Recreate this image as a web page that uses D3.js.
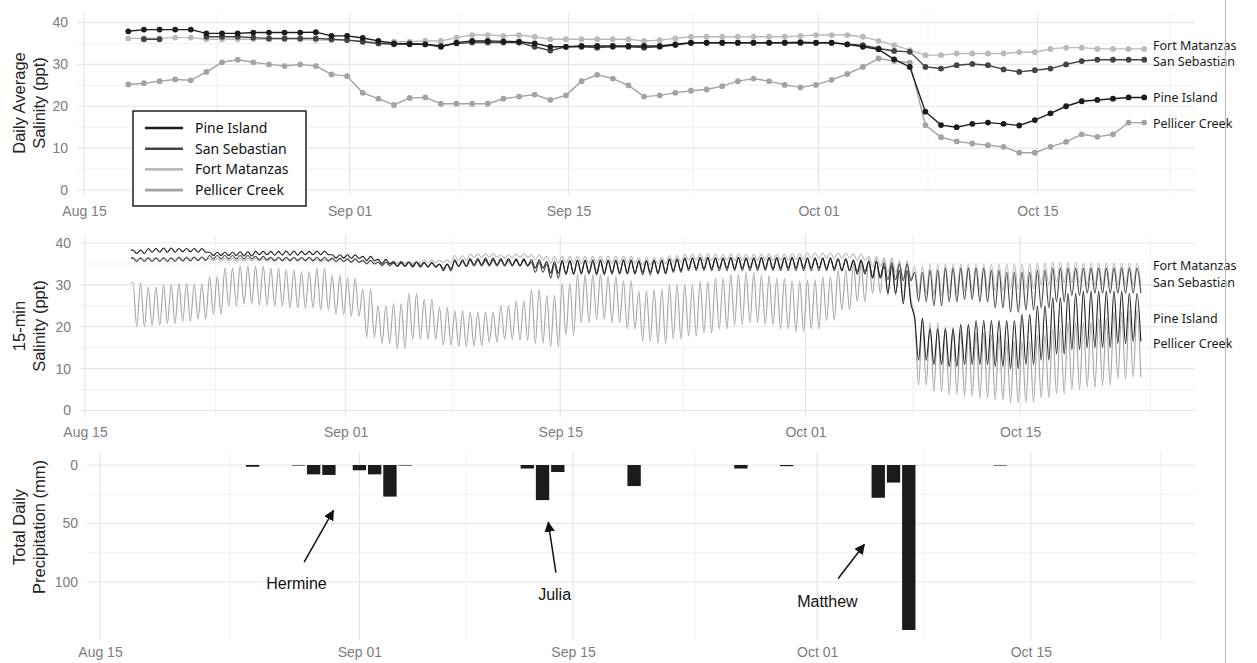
<!DOCTYPE html>
<html>
<head>
<meta charset="utf-8">
<script src="https://cdn.jsdelivr.net/npm/d3@7"></script>
<style>
  body { margin: 0; background: #fff; }
  svg { display: block; }
</style>
</head>
<body>
<div id="chart"></div>
<script>
// STATIONS
var stations = ['Pine Island', 'San Sebastian', 'Fort Matanzas', 'Pellicer Creek']
var firstDay = '2016-08-18'
// salinity level where each end label sits
var endLabelVals = [22.0, 30.6, 34.5, 15.9]

// DAILY AVERAGE SALINITY (ppt), one value per day from Aug 18
var pineDaily = [37.9, 38.3, 38.3, 38.3, 38.3, 37.4, 37.4, 37.4, 37.6, 37.6,
  37.6, 37.6, 37.7, 36.8, 36.8, 36.3, 35.6, 35.0, 34.8, 34.8,
  34.2, 35.2, 35.6, 35.6, 35.5, 35.4, 35.0, 34.2, 34.2, 34.4,
  34.4, 34.4, 34.4, 34.4, 34.4, 34.8, 35.2, 35.2, 35.2, 35.2,
  35.2, 35.2, 35.2, 35.3, 35.2, 35.2, 34.8, 34.2, 33.6, 31.2,
  29.4, 18.7, 15.5, 15.0, 15.8, 16.1, 15.8, 15.4, 16.7, 18.3,
  20.0, 21.2, 21.5, 21.8, 22.1, 22.1]
var sanSebDaily = [null, 36.0, 36.0, null, null, 36.6, 36.6, 36.6, 36.4, 36.2,
  36.2, 36.2, 36.2, 36.0, 35.8, 35.4, 35.0, 34.8, 35.0, 34.8,
  34.4, 35.0, 35.2, 35.2, 35.2, 35.2, 34.2, 33.3, 34.2, 34.2,
  34.0, 34.2, 34.2, 34.0, 34.2, 34.6, 35.1, 35.1, 35.1, 35.1,
  35.1, 35.1, 35.1, 35.1, 35.1, 35.1, 34.8, 34.6, 33.8, 33.2,
  33.0, 29.4, 29.0, 29.8, 30.1, 29.8, 28.8, 28.2, 28.6, 29.0,
  30.0, 30.8, 31.1, 31.1, 31.1, 31.1]
var matanzasDaily = [36.2, 36.2, 36.2, 36.4, 36.4, 36.0, 36.0, 36.0, 36.0, 36.0,
  36.0, 36.0, 35.8, 35.8, 35.8, 35.6, 35.2, 35.4, 35.4, 35.6,
  35.6, 36.4, 37.0, 37.0, 36.8, 37.0, 36.6, 36.0, 36.0, 36.0,
  36.0, 36.0, 36.0, 35.6, 35.8, 36.2, 36.6, 36.6, 36.6, 36.6,
  36.6, 36.6, 36.6, 36.8, 37.0, 37.0, 37.0, 36.6, 35.6, 34.6,
  33.4, 32.2, 32.2, 32.6, 32.6, 32.6, 32.6, 32.9, 32.9, 33.7,
  34.0, 34.0, 33.7, 33.7, 33.7, 33.7]
var pellicerDaily = [25.2, 25.5, 26.0, 26.4, 26.2, 28.2, 30.5, 31.1, 30.5, 30.0,
  29.6, 30.0, 29.6, 27.6, 27.2, 23.2, 21.8, 20.3, 22.0, 22.1,
  20.6, 20.6, 20.6, 20.6, 21.8, 22.3, 22.8, 21.5, 22.6, 26.0,
  27.5, 26.6, 25.0, 22.3, 22.6, 23.2, 23.7, 24.0, 24.8, 26.0,
  26.6, 26.0, 25.1, 24.5, 25.1, 26.3, 27.7, 29.4, 31.4, 30.8,
  30.4, 15.5, 12.6, 11.6, 11.1, 10.7, 10.3, 8.9, 8.9, 10.3,
  11.5, 13.3, 12.7, 13.3, 16.1, 16.1]

// 15-MIN SALINITY (ppt): high and low tide values read for each day from Aug 18
var pineHigh = [38.3, 38.7, 38.8, 38.7, 38.7, 37.8, 37.8, 37.9, 38.0, 38.0,
  38.1, 38.0, 38.1, 37.2, 37.2, 36.8, 36.1, 35.5, 35.4, 35.4,
  35.0, 36.0, 36.3, 36.4, 36.3, 36.2, 36.0, 35.6, 35.8, 35.9,
  36.0, 35.9, 36.0, 35.8, 35.9, 36.2, 36.4, 36.5, 36.4, 36.5,
  36.4, 36.5, 36.5, 36.6, 36.4, 36.4, 36.2, 35.8, 35.6, 34.5,
  33.5, 22.0, 19.5, 19.5, 20.5, 21.5, 21.5, 21.5, 23.0, 25.0,
  27.0, 28.0, 28.5, 28.5, 28.5, 28.0]
var pineLow = [37.5, 37.8, 37.8, 37.9, 37.8, 37.0, 37.0, 36.9, 37.2, 37.1,
  37.1, 37.2, 37.2, 36.4, 36.3, 35.8, 35.1, 34.5, 34.2, 34.2,
  33.4, 34.4, 34.8, 34.8, 34.7, 34.6, 34.0, 32.8, 32.6, 32.9,
  32.8, 32.9, 32.8, 33.0, 32.9, 33.4, 33.9, 33.9, 34.0, 33.9,
  34.0, 33.9, 34.0, 34.0, 34.0, 33.9, 33.4, 32.6, 31.6, 28.0,
  25.5, 12.0, 11.0, 10.5, 11.0, 11.0, 10.5, 10.0, 11.0, 12.0,
  13.5, 14.5, 15.0, 15.0, 16.0, 16.5]
var sanSebHigh = [36.4, 36.4, 36.4, 36.5, 36.6, 37.0, 37.0, 37.0, 36.8, 36.6,
  36.6, 36.6, 36.6, 36.4, 36.2, 35.8, 35.4, 35.2, 35.4, 35.2,
  34.9, 35.6, 35.9, 35.9, 35.9, 35.9, 35.4, 35.0, 35.8, 35.8,
  35.6, 35.8, 35.8, 35.6, 35.8, 36.0, 36.4, 36.5, 36.4, 36.5,
  36.4, 36.5, 36.4, 36.5, 36.4, 36.4, 36.2, 36.0, 35.6, 35.2,
  35.0, 33.0, 33.5, 34.0, 34.0, 34.0, 33.5, 33.0, 33.0, 33.5,
  34.0, 34.0, 34.0, 34.0, 34.0, 34.0]
var sanSebLow = [35.6, 35.6, 35.6, 35.7, 35.8, 36.2, 36.2, 36.2, 36.0, 35.8,
  35.8, 35.8, 35.8, 35.6, 35.4, 35.0, 34.6, 34.4, 34.6, 34.4,
  33.9, 34.4, 34.5, 34.5, 34.5, 34.5, 33.0, 31.6, 32.6, 32.6,
  32.4, 32.6, 32.6, 32.4, 32.6, 33.0, 33.4, 33.4, 33.4, 33.4,
  33.4, 33.4, 33.4, 33.4, 33.4, 33.4, 33.4, 33.2, 32.0, 31.2,
  31.0, 26.0, 25.0, 26.0, 26.5, 26.0, 24.5, 23.5, 24.0, 24.5,
  26.0, 27.5, 28.0, 28.0, 28.0, 28.0]
var matanzasHigh = [36.5, 36.5, 36.5, 36.7, 36.7, 36.3, 36.3, 36.3, 36.3, 36.3,
  36.3, 36.3, 36.1, 36.1, 36.1, 35.9, 35.5, 35.7, 35.7, 35.9,
  35.9, 37.0, 37.4, 37.4, 37.2, 37.4, 37.2, 36.8, 36.8, 36.8,
  36.8, 36.8, 36.8, 36.5, 36.6, 37.0, 37.3, 37.4, 37.3, 37.4,
  37.3, 37.4, 37.3, 37.5, 37.6, 37.6, 37.6, 37.4, 36.8, 36.2,
  35.4, 34.5, 35.0, 35.0, 35.0, 35.0, 35.0, 35.0, 35.0, 35.2,
  35.4, 35.4, 35.2, 35.2, 35.2, 35.2]
var matanzasLow = [35.9, 35.9, 35.9, 36.1, 36.1, 35.7, 35.7, 35.7, 35.7, 35.7,
  35.7, 35.7, 35.5, 35.5, 35.5, 35.3, 34.9, 35.1, 35.1, 35.3,
  35.3, 35.8, 36.6, 36.6, 36.4, 36.6, 36.0, 35.2, 35.2, 35.2,
  35.2, 35.2, 35.2, 34.7, 35.0, 35.4, 35.9, 35.8, 35.9, 35.8,
  35.9, 35.8, 35.9, 36.1, 36.4, 36.4, 36.4, 35.8, 34.4, 33.0,
  31.4, 28.0, 27.5, 28.0, 28.5, 28.5, 28.5, 29.0, 29.0, 30.0,
  30.5, 30.5, 30.0, 30.0, 30.0, 30.0]
var pellicerHigh = [30.5, 29.5, 30.0, 30.3, 30.2, 32.0,
  34.0, 34.5, 34.5, 34.0, 33.6, 33.2, 34.0, 32.2, 31.6,
  29.0, 25.0, 25.5, 28.0,
  26.5, 24.6, 23.8, 23.5, 23.5, 25.0, 26.2, 29.0, 27.5,
  30.4, 32.5, 32.5, 32.0, 31.0, 28.5, 29.0, 30.0,
  30.0, 30.8, 31.6, 32.5, 33.0, 32.2, 31.5, 31.0, 31.2,
  32.0, 33.5, 35.0, 36.3, 36.5, 35.8,
  22.0, 21.0, 20.0, 19.0, 18.5, 18.0, 16.5, 16.5, 18.0, 19.5, 21.0, 21.0, 22.0, 23.5, 24.0]
var pellicerLow = [20.0, 20.3, 20.8, 21.3, 21.8, 23.0,
  25.0, 25.5, 25.2, 25.0, 24.5, 24.5, 24.0, 23.0, 22.5,
  17.5, 16.0, 14.8, 17.0,
  17.0, 15.6, 15.3, 15.5, 16.3, 17.0, 16.8, 16.0, 15.2,
  18.0, 21.0, 21.8, 21.0, 19.5, 16.5, 16.0, 17.0,
  17.8, 18.5, 19.5, 20.5, 21.0, 20.5, 19.5, 18.8, 19.5,
  21.5, 24.0, 26.0, 28.0, 27.5, 26.5,
  6.0, 4.5, 3.8, 3.5, 3.0, 2.5, 1.8, 2.0, 3.0, 4.0, 5.0, 5.5, 6.0, 7.5, 8.0]

// TOTAL DAILY PRECIPITATION (mm)
var rainDates = ['2016-08-25', '2016-08-28', '2016-08-29', '2016-08-30', '2016-09-01', '2016-09-02',
  '2016-09-03', '2016-09-04', '2016-09-12', '2016-09-13', '2016-09-14', '2016-09-19',
  '2016-09-26', '2016-09-29', '2016-10-05', '2016-10-06', '2016-10-07', '2016-10-13']
var rainMm = [1.5, 0.5, 8, 8.5, 4.5, 8, 27, 0.5, 3, 30, 6, 18, 3, 1, 28, 15, 141, 0.5]

// STORM NOTES: days after Aug 15 and mm, for label and arrow ends
var stormNames = ['Hermine', 'Julia', 'Matthew']
var stormLabelAt = [[12.9, 101], [29.8, 111], [47.7, 117]]
var stormArrowFrom = [[13.4, 83], [29.9, 92], [48.4, 97]]
var stormArrowTo = [[15.3, 39], [29.4, 49], [50.1, 68]]

// AXIS TICKS
var tickDates = ['2016-08-15', '2016-09-01', '2016-09-15', '2016-10-01', '2016-10-15', '2016-11-01']
var tickLabels = ['Aug 15', 'Sep 01', 'Sep 15', 'Oct 01', 'Oct 15']
var salinityTicks = [0, 10, 20, 30, 40]
var rainTicks = [0, 50, 100]

// COLOURS
var colors = {
  'Pine Island': '#1c1c1c',
  'San Sebastian': '#444444',
  'Fort Matanzas': '#bababa',
  'Pellicer Creek': '#a3a3a3'
}

var parseDate = d3.timeParse('%Y-%m-%d')
var day0 = parseDate(firstDay)
var breaks = tickDates.map(parseDate)
var majors = breaks.slice(0, 5)
var minors = d3.pairs(breaks).map(function(p) { return new Date((+p[0] + +p[1]) / 2) })
var tickFont = '"Liberation Sans", Arial, sans-serif'
var labelFont = '"Noto Sans", "Open Sans", sans-serif'

// SVG CANVAS
var svg = d3
  .select('#chart')
  .append('svg')
  .attr('width', 1257)
  .attr('height', 663)

// PANEL LAYOUT
function makePanel(box, x0, pxDay, yDom, yRng) {
  var x = d3
    .scaleTime()
    .domain([majors[0], majors[4]])
    .range([x0, x0 + 61 * pxDay])
  var y = d3.scaleLinear().domain(yDom).range(yRng)
  return { box: box, x: x, y: y }
}

var topP = makePanel({ l: 77, r: 1195, t: 13, b: 194, mid: 103 }, 84, 15.63, [0, 40], [190, 22.5])
var midP = makePanel({ l: 80, r: 1195, t: 235, b: 417, mid: 326 }, 85, 15.33, [0, 40], [410.5, 243])
var botP = makePanel({ l: 87, r: 1195, t: 452, b: 640, mid: 527 }, 100, 15.26, [0, 100], [465, 582])

// GRID + AXES
function drawFrame(p, yMajor, yMinor, labelY, title) {
  var g = svg.append('g')
  yMinor.forEach(function(v) {
    g.append('line').attr('x1', p.box.l).attr('x2', p.box.r)
      .attr('y1', p.y(v)).attr('y2', p.y(v))
      .attr('stroke', '#f1f1f1').attr('stroke-width', 1)
  })
  minors.forEach(function(d) {
    g.append('line').attr('x1', p.x(d)).attr('x2', p.x(d))
      .attr('y1', p.box.t).attr('y2', p.box.b)
      .attr('stroke', '#f1f1f1').attr('stroke-width', 1)
  })
  yMajor.forEach(function(v) {
    g.append('line').attr('x1', p.box.l).attr('x2', p.box.r)
      .attr('y1', p.y(v)).attr('y2', p.y(v))
      .attr('stroke', '#e6e6e6').attr('stroke-width', 1.2)
  })
  majors.forEach(function(d) {
    g.append('line').attr('x1', p.x(d)).attr('x2', p.x(d))
      .attr('y1', p.box.t).attr('y2', p.box.b)
      .attr('stroke', '#e6e6e6').attr('stroke-width', 1.2)
  })

  // X-AXIS
  var xAxis = d3.axisBottom(p.x)
    .tickValues(majors)
    .tickFormat(function(d, i) { return tickLabels[i] })
    .tickSize(0)
  g.append('g')
    .attr('transform', 'translate(0,' + (labelY - 14) + ')')
    .call(xAxis)
    .call(function(a) { a.select('.domain').remove() })
    .selectAll('text')
    .attr('fill', '#7d7d7d')
    .attr('font-family', tickFont)
    .attr('font-size', 14)

  // Y-AXIS
  var yAxis = d3.axisLeft(p.y).tickValues(yMajor).tickSize(0).tickFormat(d3.format('d'))
  g.append('g')
    .attr('transform', 'translate(' + (p.box.l - 6) + ',0)')
    .call(yAxis)
    .call(function(a) { a.select('.domain').remove() })
    .selectAll('text')
    .attr('fill', '#7d7d7d')
    .attr('font-family', tickFont)
    .attr('font-size', 14)

  // Y-AXIS TITLE
  title.forEach(function(line, i) {
    g.append('text')
      .attr('transform', 'translate(' + (25 + i * 20) + ',' + p.box.mid + ') rotate(-90)')
      .attr('text-anchor', 'middle')
      .attr('fill', '#222')
      .attr('font-family', tickFont)
      .attr('font-size', 16.5)
      .text(line)
  })
}

drawFrame(topP, salinityTicks, [5, 15, 25, 35], 217, ['Daily Average', 'Salinity (ppt)'])
drawFrame(midP, salinityTicks, [5, 15, 25, 35], 438, ['15-min', 'Salinity (ppt)'])
drawFrame(botP, rainTicks, [25, 75], 658, ['Total Daily', 'Precipitation (mm)'])

// DAILY AVERAGE PANEL
var dailySeries = {
  'Pine Island': pineDaily,
  'San Sebastian': sanSebDaily,
  'Fort Matanzas': matanzasDaily,
  'Pellicer Creek': pellicerDaily
}
function dailyPoints(vals) {
  return vals.map(function(v, i) {
    return { t: d3.timeHour.offset(d3.timeDay.offset(day0, i), -4), v: v }
  })
}
var dailyLine = d3.line()
  .defined(function(d) { return d.v != null })
  .x(function(d) { return topP.x(d.t) })
  .y(function(d) { return topP.y(d.v) })

var drawOrder = ['Pellicer Creek', 'Fort Matanzas', 'San Sebastian', 'Pine Island']
drawOrder.forEach(function(name) {
  var pts = dailyPoints(dailySeries[name])
  svg.append('path')
    .datum(pts)
    .attr('d', dailyLine)
    .attr('fill', 'none')
    .attr('stroke', colors[name])
    .attr('stroke-width', 1.4)
  svg.append('g')
    .selectAll('circle')
    .data(pts.filter(function(d) { return d.v != null }))
    .enter()
    .append('circle')
    .attr('cx', function(d) { return topP.x(d.t) })
    .attr('cy', function(d) { return topP.y(d.v) })
    .attr('r', 2.9)
    .attr('fill', colors[name])
})

// 15-MIN PANEL
var tideSeries = {
  'Pine Island': [pineHigh, pineLow],
  'San Sebastian': [sanSebHigh, sanSebLow],
  'Fort Matanzas': [matanzasHigh, matanzasLow],
  'Pellicer Creek': [pellicerHigh, pellicerLow]
}
function tidePoints(hi, lo) {
  var pts = [{ t: day0, v: hi[0] }]
  hi.forEach(function(h, i) {
    var d = d3.timeDay.offset(day0, i)
    pts.push({ t: d3.timeHour.offset(d, 3), v: h })
    pts.push({ t: d3.timeHour.offset(d, 9), v: lo[i] })
    pts.push({ t: d3.timeHour.offset(d, 15), v: h })
    pts.push({ t: d3.timeHour.offset(d, 21), v: lo[i] })
  })
  return pts
}
var tideLine = d3.line()
  .x(function(d) { return midP.x(d.t) })
  .y(function(d) { return midP.y(d.v) })
  .curve(d3.curveMonotoneX)

drawOrder.forEach(function(name) {
  svg.append('path')
    .datum(tidePoints(tideSeries[name][0], tideSeries[name][1]))
    .attr('d', tideLine)
    .attr('fill', 'none')
    .attr('stroke', colors[name])
    .attr('stroke-width', 1.1)
})

// END LABELS
;[topP, midP].forEach(function(p) {
  stations.forEach(function(name, i) {
    svg.append('text')
      .attr('x', 1153)
      .attr('y', p.y(endLabelVals[i]))
      .attr('dy', '0.35em')
      .attr('fill', '#1a1a1a')
      .attr('font-family', labelFont)
      .attr('font-size', 12.5)
      .text(name)
  })
})

// LEGEND
var legend = svg.append('g').attr('transform', 'translate(133,111)')
legend.append('rect')
  .attr('width', 173).attr('height', 95)
  .attr('fill', '#fff').attr('stroke', '#111').attr('stroke-width', 1.4)
stations.forEach(function(name, i) {
  var yy = 17 + i * 20.7
  legend.append('line')
    .attr('x1', 12).attr('x2', 50).attr('y1', yy).attr('y2', yy)
    .attr('stroke', colors[name]).attr('stroke-width', 2.6)
  legend.append('text')
    .attr('x', 62).attr('y', yy).attr('dy', '0.35em')
    .attr('fill', '#111')
    .attr('font-family', labelFont)
    .attr('font-size', 14)
    .text(name)
})

// PRECIPITATION BARS
var barW = botP.x(d3.timeHour.offset(majors[0], 0.9 * 24)) - botP.x(majors[0])
svg.append('g')
  .selectAll('rect')
  .data(rainDates.map(function(d, i) { return { t: parseDate(d), v: rainMm[i] } }))
  .enter()
  .append('rect')
  .attr('x', function(d) { return botP.x(d.t) - barW / 2 })
  .attr('y', botP.y(0))
  .attr('width', barW)
  .attr('height', function(d) { return botP.y(d.v) - botP.y(0) })
  .attr('fill', '#1b1b1b')

// STORM ANNOTATIONS
svg.append('defs')
  .append('marker')
  .attr('id', 'arrow')
  .attr('viewBox', '0 0 10 10')
  .attr('refX', 9).attr('refY', 5)
  .attr('markerWidth', 7).attr('markerHeight', 7)
  .attr('orient', 'auto')
  .append('path')
  .attr('d', 'M0,0 L10,5 L0,10 z')
  .attr('fill', '#111')

function dayPos(days) { return d3.timeHour.offset(majors[0], days * 24) }
stormNames.forEach(function(name, i) {
  svg.append('line')
    .attr('x1', botP.x(dayPos(stormArrowFrom[i][0])))
    .attr('y1', botP.y(stormArrowFrom[i][1]))
    .attr('x2', botP.x(dayPos(stormArrowTo[i][0])))
    .attr('y2', botP.y(stormArrowTo[i][1]))
    .attr('stroke', '#111')
    .attr('stroke-width', 1.5)
    .attr('marker-end', 'url(#arrow)')
  svg.append('text')
    .attr('x', botP.x(dayPos(stormLabelAt[i][0])))
    .attr('y', botP.y(stormLabelAt[i][1]))
    .attr('dy', '0.35em')
    .attr('text-anchor', 'middle')
    .attr('fill', '#111')
    .attr('font-family', tickFont)
    .attr('font-size', 16)
    .text(name)
})

// PAGE EDGE
svg.append('line')
  .attr('x1', 1225.5).attr('x2', 1225.5)
  .attr('y1', 0).attr('y2', 663)
  .attr('stroke', '#b5b5b5')
  .attr('stroke-width', 1)
</script>
</body>
</html>
